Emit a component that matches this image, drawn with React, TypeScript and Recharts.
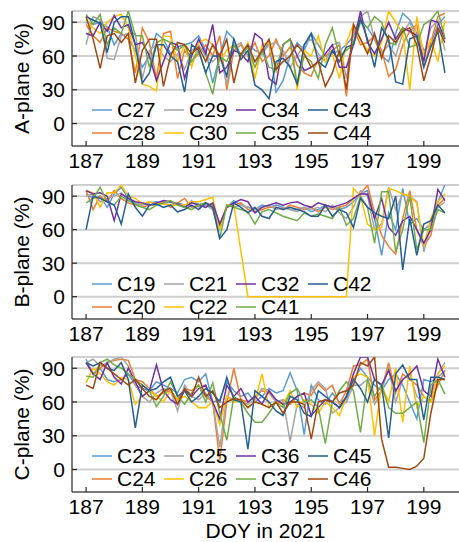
import React from 'react';
import { LineChart, Line, XAxis, YAxis, CartesianGrid, Legend, Label } from 'recharts';

// sampling times (DOY, 6-hourly)
const doy = [
  187, 187.25, 187.5, 187.75, 188, 188.25, 188.5, 188.75, 189, 189.25, 189.5, 189.75, 190,
  190.25, 190.5, 190.75, 191, 191.25, 191.5, 191.75, 192, 192.25, 192.5, 192.75, 193, 193.25,
  193.5, 193.75, 194, 194.25, 194.5, 194.75, 195, 195.25, 195.5, 195.75, 196, 196.25, 196.5,
  196.75, 197, 197.25, 197.5, 197.75, 198, 198.25, 198.5, 198.75, 199, 199.25, 199.5, 199.75,
];

const xTicks = [187, 189, 191, 193, 195, 197, 199];
const yTicks = [0, 30, 60, 90];

const colors = {
  lblue: '#5B9BD5',
  orange: '#ED7D31',
  gray: '#A5A5A5',
  gold: '#FFC000',
  purple: '#7030A0',
  green: '#70AD47',
  dblue: '#255E91',
  brown: '#9E480E',
};

// A-plane
const c27 = [
  90, 88, 90, 86, 70, 80, 75, 65, 50, 60, 80, 75, 62,
  68, 70, 72, 78, 65, 36, 60, 82, 75, 60, 70, 65, 62,
  72, 28, 38, 60, 72, 65, 80, 70, 60, 62, 65, 70, 78,
  92, 85, 75, 60, 55, 80, 98, 92, 80, 65, 70, 88, 95,
];
const c28 = [
  88, 78, 72, 85, 82, 80, 75, 45, 85, 72, 40, 80, 82,
  40, 65, 55, 62, 70, 60, 78, 30, 65, 70, 60, 72, 55,
  60, 75, 60, 68, 52, 45, 42, 58, 60, 65, 70, 24, 85,
  70, 72, 78, 65, 42, 48, 70, 82, 88, 50, 72, 95, 98,
];
const c29 = [
  70, 95, 92, 58, 57, 78, 80, 80, 40, 65, 70, 60, 55,
  62, 48, 65, 70, 60, 55, 62, 35, 68, 72, 60, 55, 62,
  70, 72, 65, 50, 60, 70, 75, 62, 55, 70, 72, 40, 80,
  95, 100, 75, 62, 70, 60, 80, 90, 75, 60, 85, 92, 65,
];
const c30 = [
  92, 85, 80, 90, 95, 97, 85, 60, 35, 33, 29, 78, 77,
  55, 70, 50, 72, 75, 70, 55, 65, 70, 60, 72, 40, 70,
  72, 45, 70, 75, 30, 65, 60, 78, 55, 62, 40, 72, 88,
  75, 65, 60, 72, 100, 90, 80, 30, 95, 60, 75, 55, 92,
];
const c34 = [
  80, 78, 90, 82, 96, 85, 88, 70, 72, 60, 38, 55, 72,
  70, 40, 60, 75, 62, 88, 45, 50, 65, 62, 55, 80, 75,
  40, 35, 70, 75, 60, 47, 50, 55, 62, 70, 50, 50, 70,
  100, 72, 62, 75, 90, 75, 85, 82, 78, 55, 92, 90, 75,
];
const c35 = [
  97, 88, 97, 70, 85, 80, 100, 78, 78, 50, 72, 75, 72,
  65, 70, 55, 65, 45, 26, 60, 55, 70, 60, 68, 50, 65,
  50, 48, 70, 75, 35, 60, 55, 40, 70, 85, 60, 65, 70,
  90, 85, 95, 90, 72, 70, 85, 68, 70, 88, 92, 100, 76,
];
const c43 = [
  95, 92, 89, 63, 90, 95, 95, 70, 36, 45, 70, 70, 60,
  55, 28, 70, 65, 45, 60, 60, 42, 75, 57, 65, 34, 30,
  22, 55, 58, 50, 35, 70, 80, 55, 50, 65, 55, 68, 70,
  93, 75, 50, 85, 75, 37, 35, 75, 78, 50, 68, 82, 45,
];
const c44 = [
  95, 75, 49, 78, 80, 72, 80, 36, 65, 75, 75, 33, 60,
  72, 70, 62, 68, 55, 70, 60, 75, 36, 62, 70, 55, 65,
  75, 48, 55, 60, 70, 62, 50, 55, 33, 45, 65, 30, 88,
  75, 62, 80, 58, 78, 72, 82, 85, 70, 38, 60, 85, 72,
];

// B-plane
const c19 = [
  92, 88, 90, 80, 92, 98, 88, 83, 82, 84, 85, 83, 82,
  84, 82, 85, 83, 82, 80, 62, 80, 86, 82, 80, 78, 82,
  80, 82, 80, 78, 78, 80, 76, 78, 82, 80, 78, 80, 85,
  92, 95, 70, 37, 75, 60, 97, 65, 70, 60, 65, 85, 100,
];
const c20 = [
  95, 78, 90, 85, 95, 88, 84, 82, 80, 82, 82, 85, 80,
  84, 88, 80, 82, 84, 82, 65, 80, 82, 84, 78, 76, 78,
  80, 80, 78, 82, 80, 78, 80, 76, 80, 78, 80, 82, 88,
  92, 100, 75, 55, 45, 38, 70, 95, 60, 45, 55, 82, 88,
];
const c21 = [
  90, 92, 85, 88, 90, 93, 86, 84, 82, 85, 84, 83, 85,
  82, 80, 86, 80, 82, 78, 60, 82, 80, 82, 80, 78, 80,
  82, 78, 80, 78, 76, 80, 78, 80, 76, 82, 75, 70, 80,
  95, 90, 60, 65, 98, 78, 92, 90, 85, 40, 65, 80, 85,
];
const c22 = [
  95, 93, 80, 93, 93, 100, 90, 88, 83, 85, 83, 83, 82,
  82, 82, 85, 85, 87, 89, 60, 82, 82, 41, 0, 0, 0,
  0, 0, 0, 0, 0, 0, 0, 0, 0, 0, 0, 0, 97,
  90, 65, 60, 62, 97, 95, 92, 90, 84, 45, 70, 85, 92,
];
const c32 = [
  95, 92, 93, 90, 68, 92, 88, 85, 84, 82, 84, 86, 85,
  83, 80, 84, 82, 80, 84, 65, 80, 84, 87, 85, 75, 80,
  82, 84, 82, 84, 85, 82, 80, 84, 82, 80, 82, 84, 88,
  92, 92, 70, 88, 62, 55, 68, 72, 60, 48, 60, 96, 86,
];
const c41 = [
  84, 88, 98, 85, 82, 90, 86, 83, 80, 78, 82, 84, 86,
  82, 80, 78, 82, 84, 80, 52, 82, 80, 78, 76, 65, 76,
  78, 75, 72, 70, 68, 75, 72, 74, 72, 70, 80, 64, 70,
  90, 80, 48, 94, 94, 40, 60, 90, 42, 60, 60, 78, 75,
];
const c42 = [
  60, 90, 88, 85, 82, 65, 92, 80, 72, 82, 83, 80, 82,
  76, 78, 82, 78, 84, 80, 52, 60, 84, 80, 75, 80, 72,
  70, 80, 78, 80, 78, 76, 72, 72, 82, 72, 78, 75, 62,
  88, 80, 75, 72, 70, 90, 24, 70, 37, 65, 68, 82, 75,
];

// C-plane
const c23 = [
  98, 85, 90, 80, 78, 80, 85, 75, 72, 70, 78, 75, 72,
  68, 80, 82, 78, 85, 60, 62, 78, 70, 65, 68, 60, 65,
  72, 68, 70, 86, 70, 31, 75, 62, 58, 68, 60, 62, 80,
  90, 82, 75, 70, 80, 85, 75, 60, 45, 80, 78, 82, 88,
];
const c24 = [
  95, 85, 90, 95, 97, 98, 97, 80, 78, 72, 65, 68, 70,
  62, 72, 70, 75, 65, 60, 8, 60, 90, 62, 60, 65, 70,
  68, 60, 62, 58, 65, 68, 66, 76, 70, 75, 58, 70, 92,
  93, 98, 62, 70, 95, 68, 85, 80, 75, 65, 60, 75, 88,
];
const c25 = [
  95, 98, 92, 95, 98, 100, 92, 75, 65, 60, 68, 72, 70,
  52, 75, 65, 62, 68, 60, 20, 65, 62, 60, 58, 62, 72,
  70, 60, 62, 25, 58, 55, 70, 78, 72, 50, 55, 60, 75,
  75, 80, 58, 70, 90, 60, 80, 85, 65, 60, 62, 85, 95,
];
const c26 = [
  77, 90, 85, 78, 75, 82, 80, 58, 65, 70, 65, 60, 70,
  62, 65, 60, 55, 55, 60, 40, 65, 60, 62, 55, 60, 85,
  55, 60, 58, 70, 55, 62, 58, 50, 60, 55, 48, 65, 82,
  85, 82, 30, 75, 60, 90, 42, 92, 55, 65, 60, 85, 92,
];
const c36 = [
  95, 85, 80, 95, 82, 76, 90, 78, 65, 70, 93, 70, 62,
  58, 70, 65, 72, 75, 60, 45, 75, 65, 72, 60, 65, 58,
  70, 62, 58, 60, 65, 68, 48, 55, 62, 60, 55, 65, 85,
  100, 100, 80, 75, 88, 70, 80, 85, 92, 70, 65, 98, 82,
];
const c37 = [
  83, 82, 95, 98, 93, 90, 85, 80, 75, 70, 56, 65, 78,
  65, 58, 68, 75, 60, 77, 50, 26, 65, 60, 50, 42, 42,
  50, 60, 55, 68, 72, 60, 62, 55, 23, 60, 70, 78, 70,
  33, 80, 65, 75, 55, 50, 50, 55, 60, 24, 75, 80, 67,
];
const c45 = [
  95, 92, 95, 90, 88, 95, 80, 37, 75, 70, 72, 78, 82,
  65, 70, 60, 65, 72, 68, 60, 82, 62, 60, 18, 70, 65,
  60, 52, 48, 65, 62, 50, 47, 70, 65, 60, 55, 65, 80,
  72, 60, 80, 75, 28, 85, 93, 80, 80, 44, 82, 82, 80,
];
const c46 = [
  75, 72, 95, 90, 85, 80, 75, 80, 72, 65, 62, 70, 72,
  58, 72, 65, 82, 65, 70, 55, 60, 63, 62, 55, 60, 58,
  55, 60, 50, 60, 60, 58, 27, 60, 62, 60, 68, 70, 75,
  95, 92, 100, 27, 2, 2, 1, 0, 3, 10, 50, 80, 80,
];

type Series = { name: string; color: string; values: number[] };

const seriesA: Series[] = [
  { name: 'C27', color: colors.lblue, values: c27 },
  { name: 'C28', color: colors.orange, values: c28 },
  { name: 'C29', color: colors.gray, values: c29 },
  { name: 'C30', color: colors.gold, values: c30 },
  { name: 'C34', color: colors.purple, values: c34 },
  { name: 'C35', color: colors.green, values: c35 },
  { name: 'C43', color: colors.dblue, values: c43 },
  { name: 'C44', color: colors.brown, values: c44 },
];
const seriesB: Series[] = [
  { name: 'C19', color: colors.lblue, values: c19 },
  { name: 'C20', color: colors.orange, values: c20 },
  { name: 'C21', color: colors.gray, values: c21 },
  { name: 'C22', color: colors.gold, values: c22 },
  { name: 'C32', color: colors.purple, values: c32 },
  { name: 'C41', color: colors.green, values: c41 },
  { name: 'C42', color: colors.dblue, values: c42 },
];
const seriesC: Series[] = [
  { name: 'C23', color: colors.lblue, values: c23 },
  { name: 'C24', color: colors.orange, values: c24 },
  { name: 'C25', color: colors.gray, values: c25 },
  { name: 'C26', color: colors.gold, values: c26 },
  { name: 'C36', color: colors.purple, values: c36 },
  { name: 'C37', color: colors.green, values: c37 },
  { name: 'C45', color: colors.dblue, values: c45 },
  { name: 'C46', color: colors.brown, values: c46 },
];

const AXIS = '#262626';
const FS = 21;

const BottomTick = (props: any) => {
  const { x, y, payload } = props;
  return (
    <g>
      <line x1={x} x2={x} y1={y} y2={y - 5} stroke={AXIS} strokeWidth={1.2} />
      <text x={x} y={y + 21.5} textAnchor="middle" fontSize={FS} fill="#000">
        {payload.value}
      </text>
    </g>
  );
};

const TopTick = (props: any) => {
  const { x, y } = props;
  return <line x1={x} x2={x} y1={y} y2={y + 5} stroke="#555" strokeWidth={1.5} />;
};

const LeftTick = (props: any) => {
  const { x, y, payload } = props;
  return (
    <g>
      <line x1={x} x2={x + 5} y1={y} y2={y} stroke={AXIS} strokeWidth={1.2} />
      <text x={x - 7} y={y} dy="0.36em" textAnchor="end" fontSize={FS} fill="#000">
        {payload.value}
      </text>
    </g>
  );
};

const LegendBox = ({ series }: { series: Series[] }) => (
  <div style={{ position: 'relative', width: 300, height: 46 }}>
    {series.map((s, k) => (
      <div
        key={s.name}
        style={{
          position: 'absolute',
          left: Math.floor(k / 2) * 72,
          top: (k % 2) * 22.5,
          height: 22,
          lineHeight: '22px',
          fontSize: FS,
          color: '#000',
          whiteSpace: 'nowrap',
        }}
      >
        <svg width={20} height={22} style={{ position: 'absolute', left: 0, top: 0 }}>
          <line x1={0} x2={20} y1={11} y2={11} stroke={s.color} strokeWidth={1.5} />
        </svg>
        <span style={{ position: 'absolute', left: 25, top: 0 }}>{s.name}</span>
      </div>
    ))}
  </div>
);

const Panel = ({
  top,
  height,
  series,
  yLabel,
  xLabel,
}: {
  top: number;
  height: number;
  series: Series[];
  yLabel: string;
  xLabel?: string;
}) => {
  const rows = doy.map((d, i) => {
    const row: Record<string, number> = { doy: d };
    series.forEach((s) => {
      row[s.name] = s.values[i];
    });
    return row;
  });
  const axisH = xLabel ? 50 : 25;
  return (
    <div style={{ position: 'absolute', left: 0, top }}>
      <LineChart
        width={459}
        height={height}
        data={rows}
        margin={{ top: 11, right: 0, bottom: xLabel ? 0 : 4, left: 0 }}
      >
        <CartesianGrid vertical={false} stroke="#cfcfcf" strokeWidth={2} />
        <XAxis
          dataKey="doy"
          type="number"
          domain={[186.5, 200.25]}
          ticks={xTicks}
          allowDataOverflow
          height={axisH}
          tickSize={0}
          tickMargin={0}
          tickLine={false}
          axisLine={{ stroke: AXIS, strokeWidth: 1.2 }}
          tick={<BottomTick />}
        >
          {xLabel && (
            <Label value={xLabel} position="insideBottom" offset={4} fontSize={FS} fill="#000" />
          )}
        </XAxis>
        <XAxis
          xAxisId="top"
          orientation="top"
          dataKey="doy"
          type="number"
          domain={[186.5, 200.25]}
          ticks={xTicks}
          allowDataOverflow
          height={0}
          tickSize={0}
          tickMargin={0}
          tickLine={false}
          axisLine={{ stroke: '#555', strokeWidth: 2 }}
          tick={<TopTick />}
        />
        <YAxis
          domain={[-20, 100]}
          ticks={yTicks}
          allowDataOverflow
          width={72}
          tickSize={0}
          tickMargin={0}
          tickLine={false}
          axisLine={{ stroke: AXIS, strokeWidth: 1.2 }}
          tick={<LeftTick />}
        >
          <Label
            content={(p: any) => {
              const vb = p.viewBox || {};
              const cy = (vb.y ?? 11) + (vb.height ?? 135) / 2;
              return (
                <text
                  x={29}
                  y={cy}
                  transform={`rotate(-90, 29, ${cy})`}
                  textAnchor="middle"
                  fontSize={FS}
                  fill="#000"
                >
                  {yLabel}
                </text>
              );
            }}
          />
        </YAxis>
        {series.map((s) => (
          <Line
            key={s.name}
            type="linear"
            dataKey={s.name}
            stroke={s.color}
            strokeWidth={1.5}
            dot={false}
            isAnimationActive={false}
          />
        ))}
        <Legend
          verticalAlign="middle"
          align="center"
          layout="horizontal"
          wrapperStyle={{ left: 92, top: 99, width: 300, height: 46 }}
          content={() => <LegendBox series={series} />}
        />
      </LineChart>
    </div>
  );
};

const App = () => (
  <div
    style={{
      position: 'absolute',
      left: 0,
      top: 0,
      width: 459,
      height: 542,
      background: '#fff',
      fontFamily: '"Liberation Sans", Arial, sans-serif',
    }}
  >
    <Panel top={0} height={175} series={seriesA} yLabel="A-plane (%)" />
    <Panel top={174} height={174} series={seriesB} yLabel="B-plane (%)" />
    <Panel top={346} height={196} series={seriesC} yLabel="C-plane (%)" xLabel="DOY in 2021" />
  </div>
);

export default App;
